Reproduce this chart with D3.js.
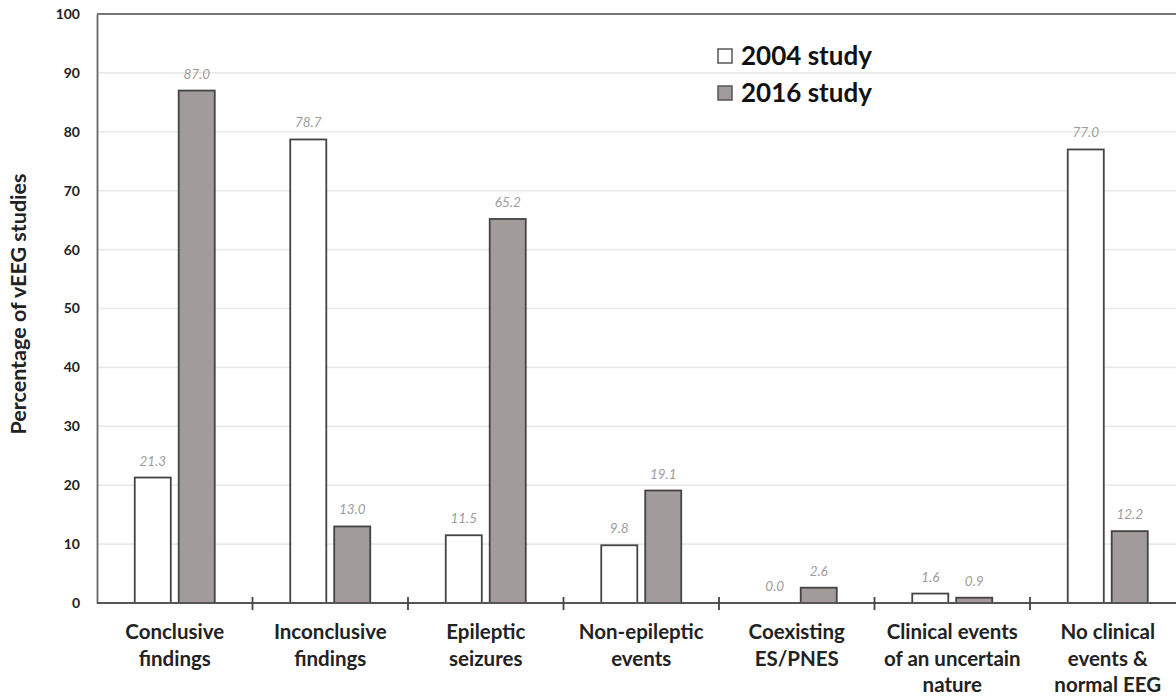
<!DOCTYPE html>
<html>
<head>
<meta charset="utf-8">
<script src="https://cdn.jsdelivr.net/npm/d3@7"></script>
<style>
  body { margin: 0; background: #fff; }
  svg { display: block; font-family: Lato, "Open Sans", sans-serif; }
</style>
</head>
<body>
<div id="chart"></div>
<script>
const categories = [
  ["Conclusive", "findings"],
  ["Inconclusive", "findings"],
  ["Epileptic", "seizures"],
  ["Non-epileptic", "events"],
  ["Coexisting", "ES/PNES"],
  ["Clinical events", "of an uncertain", "nature"],
  ["No clinical", "events &", "normal EEG"]
]
const series = ["2004 study", "2016 study"]
const values2004 = [21.3, 78.7, 11.5, 9.8, 0.0, 1.6, 77.0]
const values2016 = [87.0, 13.0, 65.2, 19.1, 2.6, 0.9, 12.2]
const yTicks = [0, 10, 20, 30, 40, 50, 60, 70, 80, 90, 100]

const W = 1176, H = 697
const margin = { top: 14, left: 97, bottom: 94 }
const plotRight = 97 + 7 * 155.5
const fills = { "2004 study": "#ffffff", "2016 study": "#a29b9b" }

const svg = d3.select("#chart").append("svg")
  .attr("width", W).attr("height", H)

const x0 = d3.scaleBand()
  .domain(d3.range(categories.length))
  .range([margin.left, plotRight])
  .padding(0)

const x1 = d3.scaleBand()
  .domain(series)
  .range([-40, 40])
  .paddingInner(0.18)

const y = d3.scaleLinear().domain([0, 100]).range([H - margin.bottom, margin.top])

// gridlines
svg.append("g")
  .selectAll("line")
  .data(yTicks.slice(1, -1))
  .join("line")
  .attr("x1", margin.left).attr("x2", plotRight)
  .attr("y1", d => y(d)).attr("y2", d => y(d))
  .attr("stroke", "#e9e9e9").attr("stroke-width", 1.6)

// top border
svg.append("line")
  .attr("x1", margin.left).attr("x2", plotRight)
  .attr("y1", y(100)).attr("y2", y(100))
  .attr("stroke", "#777").attr("stroke-width", 1.8)

// y axis
const yAxis = svg.append("g")
  .attr("transform", `translate(${margin.left},0)`)
  .call(d3.axisLeft(y).tickValues(yTicks).tickSize(0).tickPadding(17))
yAxis.attr("font-family", null).attr("font-size", null)
yAxis.select(".domain").attr("stroke", "#666").attr("stroke-width", 1.8)
yAxis.selectAll("text")
  .style("font-size", "14px").style("font-weight", 700).attr("fill", "#222")

// bars
const rows = categories.map((c, i) => ({ i, vals: [values2004[i], values2016[i]] }))
const groups = svg.append("g").selectAll("g")
  .data(rows)
  .join("g")
  .attr("transform", d => `translate(${x0(d.i) + x0.bandwidth() / 2},0)`)

groups.selectAll("rect")
  .data(d => d.vals.map((v, k) => ({ s: series[k], v })))
  .join("rect")
  .filter(d => d.v > 0)
  .attr("x", d => x1(d.s))
  .attr("width", x1.bandwidth())
  .attr("y", d => y(d.v))
  .attr("height", d => y(0) - y(d.v))
  .attr("fill", d => fills[d.s])
  .attr("stroke", "#444")
  .attr("stroke-width", 1.8)

groups.selectAll("text.val")
  .data(d => d.vals.map((v, k) => ({ s: series[k], v })))
  .join("text")
  .attr("class", "val")
  .attr("x", d => x1(d.s) + x1.bandwidth() / 2)
  .attr("y", d => y(d.v) - 12)
  .attr("text-anchor", "middle")
  .attr("font-size", 13.5)
  .attr("font-style", "italic")
  .attr("fill", "#9c9c9c")
  .text(d => d.v.toFixed(1))

// x axis
svg.append("line")
  .attr("x1", margin.left).attr("x2", plotRight)
  .attr("y1", y(0)).attr("y2", y(0))
  .attr("stroke", "#555").attr("stroke-width", 1.8)

svg.append("g").selectAll("line")
  .data(d3.range(1, categories.length))
  .join("line")
  .attr("x1", d => x0(d)).attr("x2", d => x0(d))
  .attr("y1", y(0) - 6).attr("y2", y(0) + 7)
  .attr("stroke", "#444").attr("stroke-width", 1.8)

const xl = svg.append("g").selectAll("text")
  .data(categories)
  .join("text")
  .attr("x", (d, i) => x0(i) + x0.bandwidth() / 2)
  .attr("y", 639)
  .attr("text-anchor", "middle")
  .attr("font-size", 20.5)
  .attr("font-weight", 700)
  .attr("fill", "#222")
xl.selectAll("tspan")
  .data(d => d)
  .join("tspan")
  .attr("x", function () { return this.parentNode.getAttribute("x") })
  .attr("dy", (d, k) => k === 0 ? 0 : 26.5)
  .text(d => d)

// y title
svg.append("text")
  .attr("transform", "translate(26,304) rotate(-90)")
  .attr("text-anchor", "middle")
  .attr("font-size", 21.5)
  .attr("font-weight", 700)
  .attr("fill", "#222")
  .text("Percentage of vEEG studies")

// legend
const legend = svg.append("g").selectAll("g")
  .data(series)
  .join("g")
  .attr("transform", (d, k) => `translate(718,${49 + k * 37})`)
legend.append("rect")
  .attr("width", 14).attr("height", 14)
  .attr("fill", d => fills[d])
  .attr("stroke", "#555").attr("stroke-width", 1.5)
legend.append("text")
  .attr("x", 23).attr("y", 16)
  .attr("font-size", 26)
  .attr("font-weight", 700)
  .attr("fill", "#111")
  .text(d => d)
</script>
</body>
</html>
